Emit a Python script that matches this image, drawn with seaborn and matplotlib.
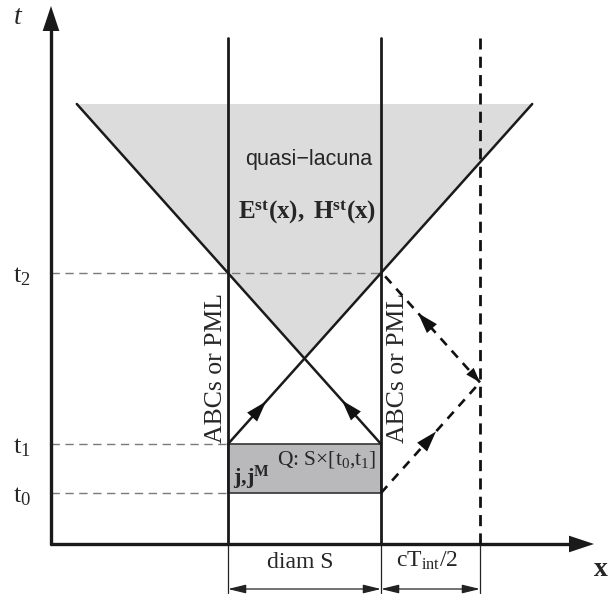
import matplotlib
matplotlib.use("Agg")
import matplotlib.pyplot as plt
import seaborn as sns
import numpy as np
import pandas as pd

# --- diagram geometry (x: space, t: time, in drawing units) ---
x_axis_start = 51
x_axis_end = 594
t_axis_base = 50
t_axis_top = 588
x_bounds = [228, 381]          # boundaries of the source domain S
x_far = 480                    # artificial far boundary at c*T_int/2
t_levels = [101, 150, 321]     # t0, t1, t2
t_level_labels = ["t$_0$", "t$_1$", "t$_2$"]
t_top = 556                    # top of the boundary lines
lacuna_top = 490               # top of the shaded quasi-lacuna
slope = 171 / 153              # characteristic slope dt/dx

sns.set_theme(style="white")
plt.rcParams["font.family"] = ["Liberation Serif", "DejaVu Serif"]
plt.rcParams["mathtext.fontset"] = "custom"
plt.rcParams["mathtext.rm"] = "Liberation Serif"
plt.rcParams["mathtext.it"] = "Liberation Serif:italic"
plt.rcParams["mathtext.bf"] = "Liberation Serif:bold"

fig = plt.figure(figsize=(6.08, 5.94), dpi=100)
ax = fig.add_axes([0, 0, 1, 1])
ax.set_xlim(0, 608)
ax.set_ylim(0, 594)
ax.axis("off")

xl, xr = x_bounds
t0, t1, t2 = t_levels

# characteristic lines from the top corners of Q
x_up_right = xl + (lacuna_top - t1) / slope
x_up_left = xr - (lacuna_top - t1) / slope
x_cross = (xl + xr) / 2
t_cross = t1 + (x_cross - xl) * slope

# shaded quasi-lacuna
ax.fill([x_up_left, x_up_right, x_cross], [lacuna_top, lacuna_top, t_cross],
        color="#dcdcdd", lw=0, zorder=0)

# source region Q = S x [t0, t1]
ax.fill([xl, xr, xr, xl], [t0, t0, t1, t1], facecolor="#b9b9bc",
        edgecolor="#333333", lw=1.2, zorder=1)

diag = pd.DataFrame({
    "x": [xl, x_up_right, xr, x_up_left],
    "t": [t1, lacuna_top, t1, lacuna_top],
    "ray": ["a", "a", "b", "b"],
})
sns.lineplot(data=diag, x="x", y="t", units="ray", estimator=None, sort=False,
             color="#1a1a1a", lw=1.8, ax=ax, zorder=3)

# arrowheads on the characteristics
def head(x, y, dx, dy, hl=1.25, hw=0.4):
    ax.annotate("", xy=(x + dx, y + dy), xytext=(x, y),
                arrowprops=dict(arrowstyle=f"-|>,head_length={hl},head_width={hw}",
                                color="#111111", lw=0, shrinkA=0, shrinkB=0),
                zorder=5)

ux, uy = 1 / np.hypot(1, slope), slope / np.hypot(1, slope)
head(266 - 8 * ux, t1 + (266 - xl) * slope - 8 * uy, 8 * ux, 8 * uy)
head(342 + 8 * ux, t1 + (xr - 342) * slope - 8 * uy, -8 * ux, 8 * uy)

# boundary lines
for xb in x_bounds:
    ax.plot([xb, xb], [t_axis_base, t_top], color="#1a1a1a", lw=2.0, zorder=4)
ax.plot([x_far, x_far], [t_axis_base, t_top], color="#111111", lw=2.0,
        dashes=(4, 2.6), zorder=4)

# reflected wave path to the far boundary and back
t_vertex = t0 + (x_far - xr) * slope
t_back = t_vertex + (x_far - xr) * slope
ax.plot([xr, x_far], [t0, t_vertex], color="#111111", lw=1.9,
        dashes=(3.5, 2.8), zorder=4)
ax.plot([x_far, xr], [t_vertex, t_back], color="#111111", lw=1.9,
        dashes=(3.5, 2.8), zorder=4)
head(436 - 8 * ux, t0 + (436 - xr) * slope - 8 * uy, 8 * ux, 8 * uy)
head(418 + 8 * ux, t_vertex + (x_far - 418) * slope - 8 * uy, -8 * ux, 8 * uy)
head(x_far - 7 * ux, t_vertex + 7 * uy, 7 * ux, -7 * uy, hl=0.9, hw=0.3)

# dashed guides to the time levels
ax.plot([x_axis_start, xr], [t2, t2], color="#7a7a7a", lw=1.0, dashes=(6, 4), zorder=2)
for tv in (t0, t1):
    ax.plot([x_axis_start, xl], [tv, tv], color="#7a7a7a", lw=1.0, dashes=(6, 4), zorder=2)

# axes with arrows
ax.plot([x_axis_start, x_axis_start], [t_axis_base, t_axis_top - 15], color="#1a1a1a", lw=2.4)
ax.plot([x_axis_start, x_axis_end - 15], [t_axis_base, t_axis_base], color="#1a1a1a", lw=2.4)
ax.annotate("", xy=(x_axis_start, t_axis_top), xytext=(x_axis_start, t_axis_top - 20),
            arrowprops=dict(arrowstyle="-|>,head_length=1.5,head_width=0.5",
                            color="#1a1a1a", lw=0, shrinkA=0, shrinkB=0))
ax.annotate("", xy=(x_axis_end, t_axis_base), xytext=(x_axis_end - 20, t_axis_base),
            arrowprops=dict(arrowstyle="-|>,head_length=1.5,head_width=0.5",
                            color="#1a1a1a", lw=0, shrinkA=0, shrinkB=0))

# dimension lines
dim_t = 5
for xe in (xl, xr, x_far):
    ax.plot([xe, xe], [1, t_axis_base], color="#222222", lw=0.9)
for a, b in ((xl, xr), (xr, x_far)):
    ax.annotate("", xy=(b, dim_t), xytext=(a, dim_t),
                arrowprops=dict(arrowstyle="<|-|>,head_length=0.9,head_width=0.22",
                                color="#222222", lw=0.9, shrinkA=0, shrinkB=0))

# labels
ax.text(18, 576, "t", fontsize=20, style="italic", ha="center", va="center")
ax.text(601, 24, "x", fontsize=20, fontweight="bold", ha="center", va="center")
for tv, lab in zip(t_levels, t_level_labels):
    ax.text(22, tv - 4, lab, fontsize=19, ha="center", va="center")
for xt in (216, 398):
    ax.text(xt, 226, "ABCs or PML", fontsize=18.5, rotation=90, ha="center", va="center")
ax.text(309, 434, "quasi\u2212lacuna", fontsize=15.5, family=["Liberation Sans", "DejaVu Sans"],
        ha="center", va="center")
ax.text(307, 382, r"$\mathbf{E^{st}(x),\ H^{st}(x)}$", fontsize=18, ha="center", va="center")
ax.text(327, 134, r"Q: S$\times$[t$_0$,t$_1$]", fontsize=15.5, ha="center", va="center")
ax.text(251, 116, r"$\mathbf{j{,}j^{M}}$", fontsize=16, ha="center", va="center")
ax.text(300, 31, "diam S", fontsize=17, ha="center", va="center")
ax.text(427, 33, r"cT$_{\mathrm{int}}$/2", fontsize=17, ha="center", va="center")

fig.savefig("out.png", dpi=100)
